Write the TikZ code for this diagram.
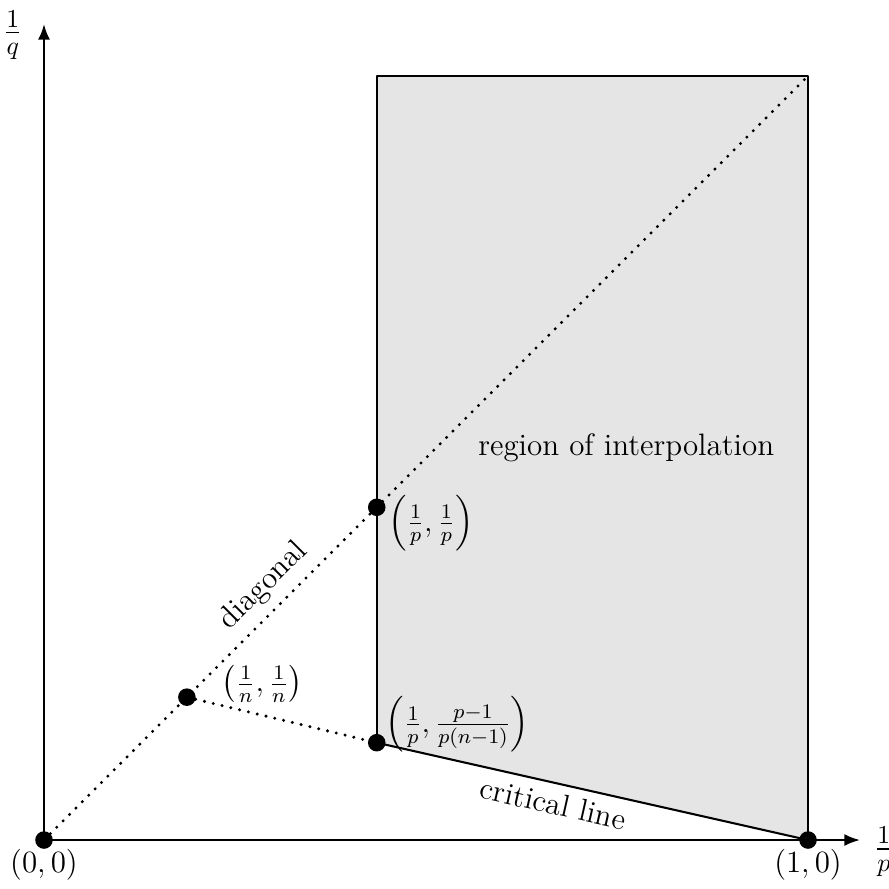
\documentclass[tikz,border=0pt]{standalone}
\usepackage{amsmath, amssymb}
\usetikzlibrary{arrows.meta, calc}
\definecolor{regiongray}{gray}{0.9}
\tikzset{
  >={Latex[length=6pt, width=4.6pt]},
  every picture/.style={line cap=round, line join=round},
  axis/.style={->, line width=0.8pt},
  edge/.style={line width=0.8pt},
  dotline/.style={line width=1.3pt, dash pattern=on 0pt off 3.5pt},
  axislbl/.style={font=\Large},
  % interpolation points
  ptdot/.style={fill=black},
}

\begin{document}
\begin{tikzpicture}[x=10.4cm, y=10.4cm, font=\large]
  \useasboundingbox (-0.0576,-0.0628) rectangle (1.106,1.0995);
  \coordinate (O) at (0,0);
  \coordinate (A) at (1,0);
  \coordinate (T) at (1,1);
  \coordinate (B) at (0.4355,1);
  \coordinate (P) at (0.4355,0.4355);
  \coordinate (N) at (0.187,0.187);
  \coordinate (C) at (0.4355,0.1274);
  \coordinate (xtip) at (1.068,0);
  \coordinate (ytip) at (0,1.068);
  % region of interpolation
  \fill[regiongray] (C) -- (A) -- (T) -- (B) -- cycle;
  \draw[edge] (C) -- (B) -- (T) -- (A);
  \draw[edge] (C) -- node[sloped, below, pos=0.42] (critlbl) {critical line} (A);
  \node (regionlbl) at (0.762,0.514) {region of interpolation};
  % axes
  \draw[axis] (O) -- (xtip);
  \draw[axis] (O) -- (ytip);
  \node[axislbl, right, xshift=2pt, yshift=-4.5pt] (xlbl) at (xtip) {$\frac{1}{p}$};
  \node[axislbl, left, xshift=-4.8pt, yshift=-4.3pt] (ylbl) at (ytip) {$\frac{1}{q}$};
  % diagonal and segment to the critical line
  \draw[dotline] (O) -- node[sloped, above, pos=0.31] (diaglbl) {diagonal} (T);
  \draw[dotline] (N) -- (C);
  \foreach \pt in {O,A,N,P,C}
    \fill[ptdot] (\pt) circle (3.4pt);
  \node[below] (olbl) at (O) {$(0,0)$};
  \node[below] (albl) at (A) {$(1,0)$};
  \node[right, xshift=10pt, yshift=5pt] (nlbl) at (N) {$\left(\frac{1}{n}, \frac{1}{n}\right)$};
  \node[right, xshift=1pt, yshift=-6.2pt] (plbl) at (P) {$\Bigl(\frac{1}{p}, \frac{1}{p}\Bigr)$};
  \node[right, yshift=7pt] (clbl) at (C) {$\Bigl(\frac{1}{p}, \frac{p-1}{p(n-1)}\Bigr)$};
\end{tikzpicture}
\end{document}
